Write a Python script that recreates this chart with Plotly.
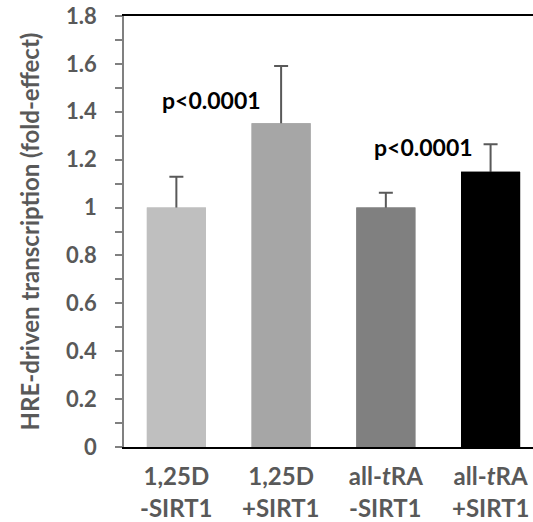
import plotly.graph_objects as go

labels_line1 = ["1,25D", "1,25D", "all-<i>t</i>RA", "all-<i>t</i>RA"]
labels_line2 = ["-SIRT1", "+SIRT1", "-SIRT1", "+SIRT1"]
values = [1.0, 1.352, 1.0, 1.150]
errors = [0.129, 0.239, 0.062, 0.114]
bar_colors = ["#bfbfbf", "#a6a6a6", "#808080", "#000000"]
y_tickvals = [0, 0.2, 0.4, 0.6, 0.8, 1.0, 1.2, 1.4, 1.6, 1.8]
y_ticktext = ["0", "0.2", "0.4", "0.6", "0.8", "1", "1.2", "1.4", "1.6", "1.8"]
pvals = ["p<0.0001", "p<0.0001"]
p_pos = [(0.34, 1.449), (2.364, 1.253)]

FONT = "Lato"
GRAY = "#595959"

x = list(range(len(labels_line1)))
fig = go.Figure()
# bars with error bars (symmetric, lower half hidden by the overlay bars)
fig.add_trace(go.Bar(
    x=x, y=values,
    marker=dict(color=bar_colors, line=dict(width=0)),
    error_y=dict(type="data", array=errors, color=GRAY, thickness=2, width=7),
    width=0.564,
))
fig.add_trace(go.Bar(
    x=x, y=values,
    marker=dict(color=bar_colors, line=dict(width=0)),
    width=0.564,
    hoverinfo="skip",
))

for t, (px, py) in zip(pvals, p_pos):
    fig.add_annotation(x=px, y=py, text="<b>%s</b>" % t, showarrow=False,
                       font=dict(family=FONT, size=23, color="#000000"),
                       xanchor="center", yanchor="middle")

# second line of the category labels
for xi, t in zip(x, labels_line2):
    fig.add_annotation(x=xi, xref="x", y=0, yref="paper", yshift=-60,
                       text="<b>%s</b>" % t, showarrow=False,
                       font=dict(family=FONT, size=24, color=GRAY),
                       xanchor="center", yanchor="middle")

fig.update_layout(
    width=533, height=522,
    margin=dict(l=124, r=0, t=16, b=75),
    plot_bgcolor="white", paper_bgcolor="white",
    showlegend=False, barmode="overlay",
    font=dict(family=FONT, size=21, color=GRAY),
)
fig.update_xaxes(
    range=[-0.5, 3.405],
    tickvals=x, ticktext=["<b>%s</b>" % c for c in labels_line1],
    showline=True, linecolor="#000000", linewidth=2, mirror=True,
    ticks="", showgrid=False, zeroline=False, automargin=False,
    tickfont=dict(family=FONT, size=24, color=GRAY),
    ticklabelstandoff=7,
)
fig.update_yaxes(
    range=[0, 1.8], automargin=False,
    tickvals=y_tickvals, ticktext=["<b>%s</b>" % t for t in y_ticktext],
    showline=True, linecolor="#808080", linewidth=1.5,
    ticks="outside", ticklen=7, tickcolor="#808080", tickwidth=1.5,
    minor=dict(dtick=0.1, ticks="outside", ticklen=7, tickcolor="#808080", tickwidth=1.5, showgrid=False),
    showgrid=False, zeroline=False,
    tickfont=dict(family=FONT, size=22, color=GRAY),
    ticklabelstandoff=14,
    title=dict(text="<b>HRE-driven transcription (fold-effect)</b>",
               font=dict(family=FONT, size=24, color=GRAY), standoff=20),
)

fig.write_html("out.html")
